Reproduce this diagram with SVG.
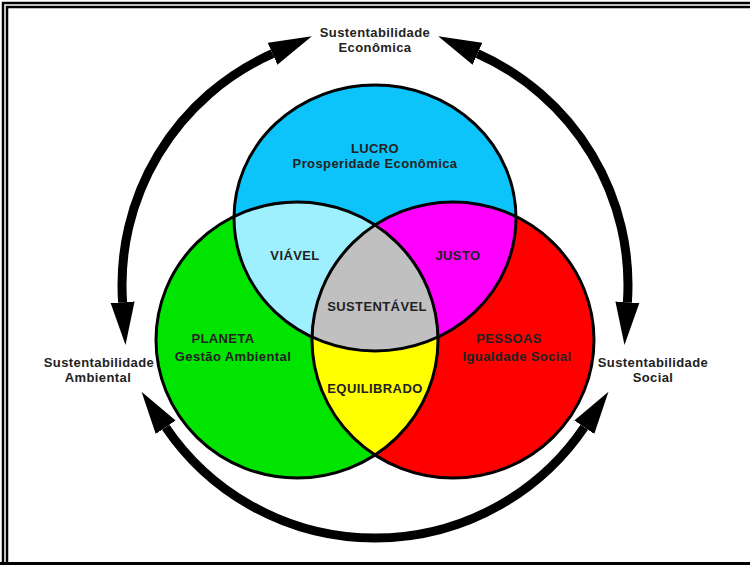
<svg xmlns="http://www.w3.org/2000/svg" xmlns:xlink="http://www.w3.org/1999/xlink" width="750" height="566" viewBox="0 0 750 566">
  <style>
    .lbl { font-family: "Liberation Sans", Arial, sans-serif; font-weight: bold; font-size: 13px; letter-spacing: 0.4px; fill: #222; text-anchor: middle; }
    .ring { fill: none; stroke: #000; stroke-width: 3; }
    .arc { fill: none; stroke: #000; stroke-width: 9; marker-start: url(#head); marker-end: url(#head); }
    .frame { fill: none; stroke: #000; stroke-width: 2.5; }
  </style>
  <defs>
    <ellipse id="eLucro" cx="375" cy="218" rx="141" ry="133"/>
    <ellipse id="ePlaneta" cx="297" cy="340" rx="141" ry="138"/>
    <ellipse id="ePessoas" cx="453" cy="340" rx="141" ry="138"/>
    <clipPath id="cLucro"><use href="#eLucro"/></clipPath>
    <clipPath id="cPlaneta"><use href="#ePlaneta"/></clipPath>
    <clipPath id="cPessoas"><use href="#ePessoas"/></clipPath>
    <marker id="head" viewBox="0 -13 44 26" markerWidth="44" markerHeight="26" refX="0" refY="0" orient="auto-start-reverse" markerUnits="userSpaceOnUse">
      <path d="M0,-12 L43,0 L0,12 Z" fill="#000"/>
    </marker>
  </defs>

  <rect width="750" height="566" fill="#fff"/>

  <!-- page frame: double rule on the left and top, single rule at the bottom -->
  <g id="frame">
    <path class="frame" d="M3,563 V3 H750"/>
    <path class="frame" d="M7,563 V7 H750"/>
    <line x1="0" y1="563.5" x2="750" y2="563.5" stroke="#000" stroke-width="3"/>
  </g>

  <!-- the three pillars -->
  <g id="planeta">
    <use href="#ePlaneta" fill="#00E400"/>
  </g>
  <g id="pessoas">
    <use href="#ePessoas" fill="#FF0000"/>
  </g>
  <g id="lucro">
    <use href="#eLucro" fill="#0CC4FA"/>
  </g>

  <!-- pairwise overlaps -->
  <g id="viavel">
    <use href="#eLucro" fill="#9EF0FF" clip-path="url(#cPlaneta)"/>
  </g>
  <g id="justo">
    <use href="#eLucro" fill="#FF00FF" clip-path="url(#cPessoas)"/>
  </g>
  <g id="equilibrado">
    <use href="#ePlaneta" fill="#FFFF00" clip-path="url(#cPessoas)"/>
  </g>
  <!-- centre: all three -->
  <g id="sustentavel">
    <g clip-path="url(#cPlaneta)">
      <use href="#eLucro" fill="#C0C0C0" clip-path="url(#cPessoas)"/>
    </g>
  </g>

  <!-- outlines -->
  <g id="outlines">
    <use href="#ePlaneta" class="ring"/>
    <use href="#ePessoas" class="ring"/>
    <use href="#eLucro" class="ring"/>
  </g>

  <!-- labels inside the circles -->
  <g id="labels-inner">
    <text class="lbl" x="375" y="152.5">LUCRO</text>
    <text class="lbl" x="375" y="168">Prosperidade Econômica</text>
    <text class="lbl" x="295" y="259.5">VIÁVEL</text>
    <text class="lbl" x="458" y="259.5">JUSTO</text>
    <text class="lbl" x="377" y="310.5">SUSTENTÁVEL</text>
    <text class="lbl" x="375" y="392.5">EQUILIBRADO</text>
    <text class="lbl" x="223" y="342.5">PLANETA</text>
    <text class="lbl" x="233" y="360.5">Gestão Ambiental</text>
    <text class="lbl" x="509" y="342.5">PESSOAS</text>
    <text class="lbl" x="517" y="360.5">Igualdade Social</text>
  </g>

  <!-- outer labels -->
  <g id="economica">
    <text class="lbl" x="375" y="36.5">Sustentabilidade</text>
    <text class="lbl" x="375" y="51.5">Econômica</text>
  </g>
  <g id="ambiental">
    <text class="lbl" x="99" y="366.5">Sustentabilidade</text>
    <text class="lbl" x="98" y="381.5">Ambiental</text>
  </g>
  <g id="social">
    <text class="lbl" x="653" y="366.5">Sustentabilidade</text>
    <text class="lbl" x="653" y="381.5">Social</text>
  </g>

  <!-- double-headed arcs linking the outer labels -->
  <g id="connectors">
    <path class="arc" d="M272.5,53.7 A253,253 0 0 0 122.6,302.2"/>
    <path class="arc" d="M477.5,53.7 A253,253 0 0 1 627.4,302.2"/>
    <path class="arc" d="M165.7,427.2 A253,253 0 0 0 584.3,427.2"/>
  </g>
</svg>
